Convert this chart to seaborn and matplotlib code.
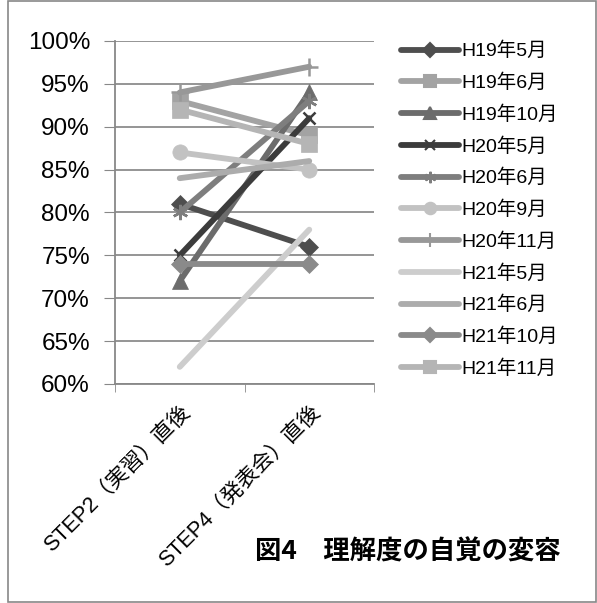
import matplotlib
matplotlib.use('Agg')
import matplotlib.pyplot as plt
import seaborn as sns
import pandas as pd
from matplotlib.lines import Line2D
from matplotlib.patches import Rectangle

categories = ['STEP2（実習）直後', 'STEP4（発表会）直後']
series = ['H19年5月', 'H19年6月', 'H19年10月', 'H20年5月', 'H20年6月', 'H20年9月',
          'H20年11月', 'H21年5月', 'H21年6月', 'H21年10月', 'H21年11月']
step2 = [81, 93, 72, 75, 80, 87, 94, 62, 84, 74, 92]
step4 = [76, 89, 94, 91, 93, 85, 97, 78, 86, 74, 88]
yticks = [60, 65, 70, 75, 80, 85, 90, 95, 100]

colors = ['#4e4e4e', '#a3a3a3', '#6c6c6c', '#3c3c3c', '#7e7e7e', '#c2c2c2',
          '#989898', '#cdcdcd', '#acacac', '#8a8a8a', '#b5b5b5']
markers = ['D', 's', '^', 'x', (6, 2, 0), 'o', '+', None, None, 'D', 's']
msizes = [9, 11, 11, 9, 11, 11, 13, 0, 0, 9, 11]

rows = []
for name, a, b in zip(series, step2, step4):
    rows.append({'series': name, 'x': 0, 'val': a})
    rows.append({'series': name, 'x': 1, 'val': b})
df = pd.DataFrame(rows)

sns.set_style('white')
plt.rcParams['font.family'] = ['Liberation Sans', 'Noto Sans CJK JP', 'DejaVu Sans']
plt.rcParams['text.color'] = 'black'
plt.rcParams['xtick.color'] = 'black'
plt.rcParams['ytick.color'] = 'black'

fig = plt.figure(figsize=(5.97, 6.03), dpi=100)
ax = fig.add_axes([115 / 597, 1 - 384 / 603, 259 / 597, 343 / 603])

for i, name in enumerate(series):
    sub = df[df['series'] == name]
    sns.lineplot(data=sub, x='x', y='val', ax=ax, color=colors[i], lw=4.2,
                 marker=markers[i] if markers[i] is not None else None,
                 markersize=msizes[i], markeredgecolor=colors[i],
                 markeredgewidth=1.8 if markers[i] in ('x', '+', (6, 2, 0)) else 0.5,
                 legend=False)

ax.set_xlim(-0.5, 1.5)
ax.set_ylim(60, 100)
ax.set_yticks(yticks)
ax.set_yticklabels([f'{v}%' for v in yticks], fontsize=17.5)
ax.set_xticks([0, 1])
ax.set_xticklabels(categories, rotation=45, ha='right', rotation_mode='anchor', fontsize=15.5)
ax.set_xticks([-0.5, 0.5, 1.5], minor=True)
ax.tick_params(axis='x', which='major', length=0, pad=13)
ax.tick_params(axis='x', which='minor', length=6, color='#888888', direction='out', bottom=True)
ax.tick_params(axis='y', length=8, color='#888888', direction='out', left=True, pad=10)
ax.set_xlabel('')
ax.set_ylabel('')
ax.grid(axis='y', color='#8c8c8c', lw=1.3)
ax.set_axisbelow(True)
for s in ['top', 'right']:
    ax.spines[s].set_visible(False)
for s in ['left', 'bottom']:
    ax.spines[s].set_color('#888888')
    ax.spines[s].set_linewidth(1.3)

handles = []
for i, name in enumerate(series):
    handles.append(Line2D([], [], color=colors[i], lw=4.2, marker=markers[i],
                          markersize=msizes[i] * 0.75, markeredgecolor=colors[i],
                          markeredgewidth=1.5))
leg = fig.legend(handles, series, loc='upper left', bbox_to_anchor=(393 / 597, 1 - 34 / 603),
                 frameon=False, fontsize=14, handlelength=3.0, handletextpad=0.1,
                 labelspacing=0.68, borderaxespad=0)

fig.text(255 / 597, 1 - 552 / 603, '図4　理解度の自覚の変容', fontsize=19, fontweight='bold',
         va='center', family=['Noto Sans CJK JP', 'DejaVu Sans'])

fig.patches.append(Rectangle((8 / 597, 1 / 603), 1 - 9 / 597, 1 - 2 / 603,
                             transform=fig.transFigure, fill=False,
                             edgecolor='#888888', lw=1.2))

fig.savefig('out.png', dpi=100)
